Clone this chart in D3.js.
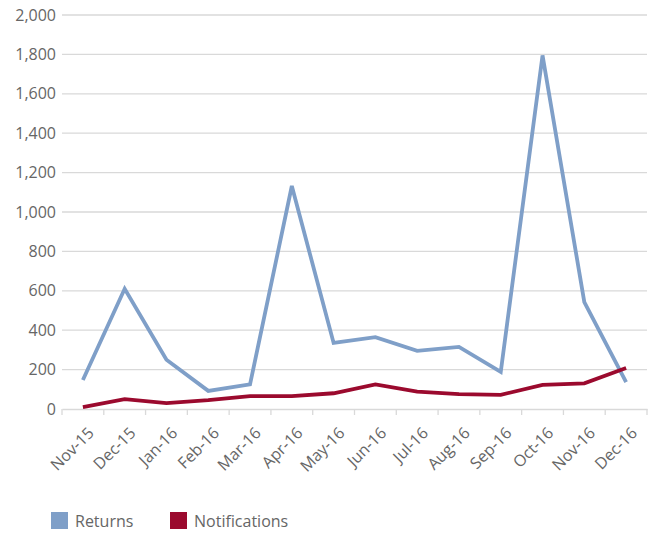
<!DOCTYPE html>
<html><head><meta charset="utf-8">
<script src="https://cdn.jsdelivr.net/npm/d3@7"></script>
<style>body{margin:0;background:#fff;} text{font-family:"Open Sans",sans-serif;fill:#666;}</style>
</head><body><svg id="c" width="653" height="533"></svg>
<script>
const categories = ["Nov-15","Dec-15","Jan-16","Feb-16","Mar-16","Apr-16","May-16","Jun-16","Jul-16","Aug-16","Sep-16","Oct-16","Nov-16","Dec-16"];
const returns = [147, 610, 250, 92, 125, 1132, 335, 365, 295, 315, 188, 1795, 543, 137];
const notifications = [10, 50, 30, 45, 65, 65, 80, 125, 88, 76, 72, 122, 130, 208];
const yTicks = [0,200,400,600,800,1000,1200,1400,1600,1800,2000];
const seriesNames = ["Returns","Notifications"];
const colors = ["#7f9fc8","#9b0a2e"];

const svg = d3.select("#c");
const x = d3.scaleBand().domain(categories).range([62,647]);
const y = d3.scaleLinear().domain([0,2000]).range([409,15]);

svg.append("g").selectAll("line").data(yTicks.filter(d=>d>0)).join("line")
  .attr("x1",62).attr("x2",647).attr("y1",d=>y(d)).attr("y2",d=>y(d))
  .attr("stroke","#d9d9d9").attr("stroke-width",1.3);

svg.append("g").selectAll("text").data(yTicks).join("text")
  .attr("x",56).attr("y",d=>y(d)).attr("dy","0.35em").attr("text-anchor","end")
  .attr("font-size",16).text(d=>d3.format(",")(d));

const xa = svg.append("g").attr("transform","translate(0,409)")
  .call(d3.axisBottom(x).tickSize(0).tickFormat(""));
xa.select(".domain").attr("stroke","#d9d9d9").attr("stroke-width",1.3);
svg.append("g").selectAll("line").data(categories.concat(["__end"])).join("line")
  .attr("x1",(d,i)=>i<categories.length?x(d):x.range()[1]).attr("x2",(d,i)=>i<categories.length?x(d):x.range()[1])
  .attr("y1",409).attr("y2",415).attr("stroke","#d9d9d9").attr("stroke-width",1.3);

svg.append("g").selectAll("text").data(categories).join("text")
  .attr("transform",d=>`translate(${x(d)+x.bandwidth()/2+12},${434}) rotate(-45)`)
  .attr("text-anchor","end").attr("font-size",16).text(d=>d);

const line = d3.line().x((d,i)=>x(categories[i])+x.bandwidth()/2).y(d=>y(d));
[returns, notifications].forEach((s,k)=>{
  svg.append("path").datum(s).attr("d",line).attr("fill","none")
    .attr("stroke",colors[k]).attr("stroke-width",3.8).attr("stroke-linejoin","miter");
});

const leg = svg.append("g");
const lx = [51,170];
seriesNames.forEach((n,k)=>{
  leg.append("rect").attr("x",lx[k]).attr("y",512).attr("width",17).attr("height",17).attr("fill",colors[k]);
  leg.append("text").attr("x",lx[k]+24).attr("y",521).attr("dy","0.35em").attr("font-size",16).text(n);
});
</script></body></html>
